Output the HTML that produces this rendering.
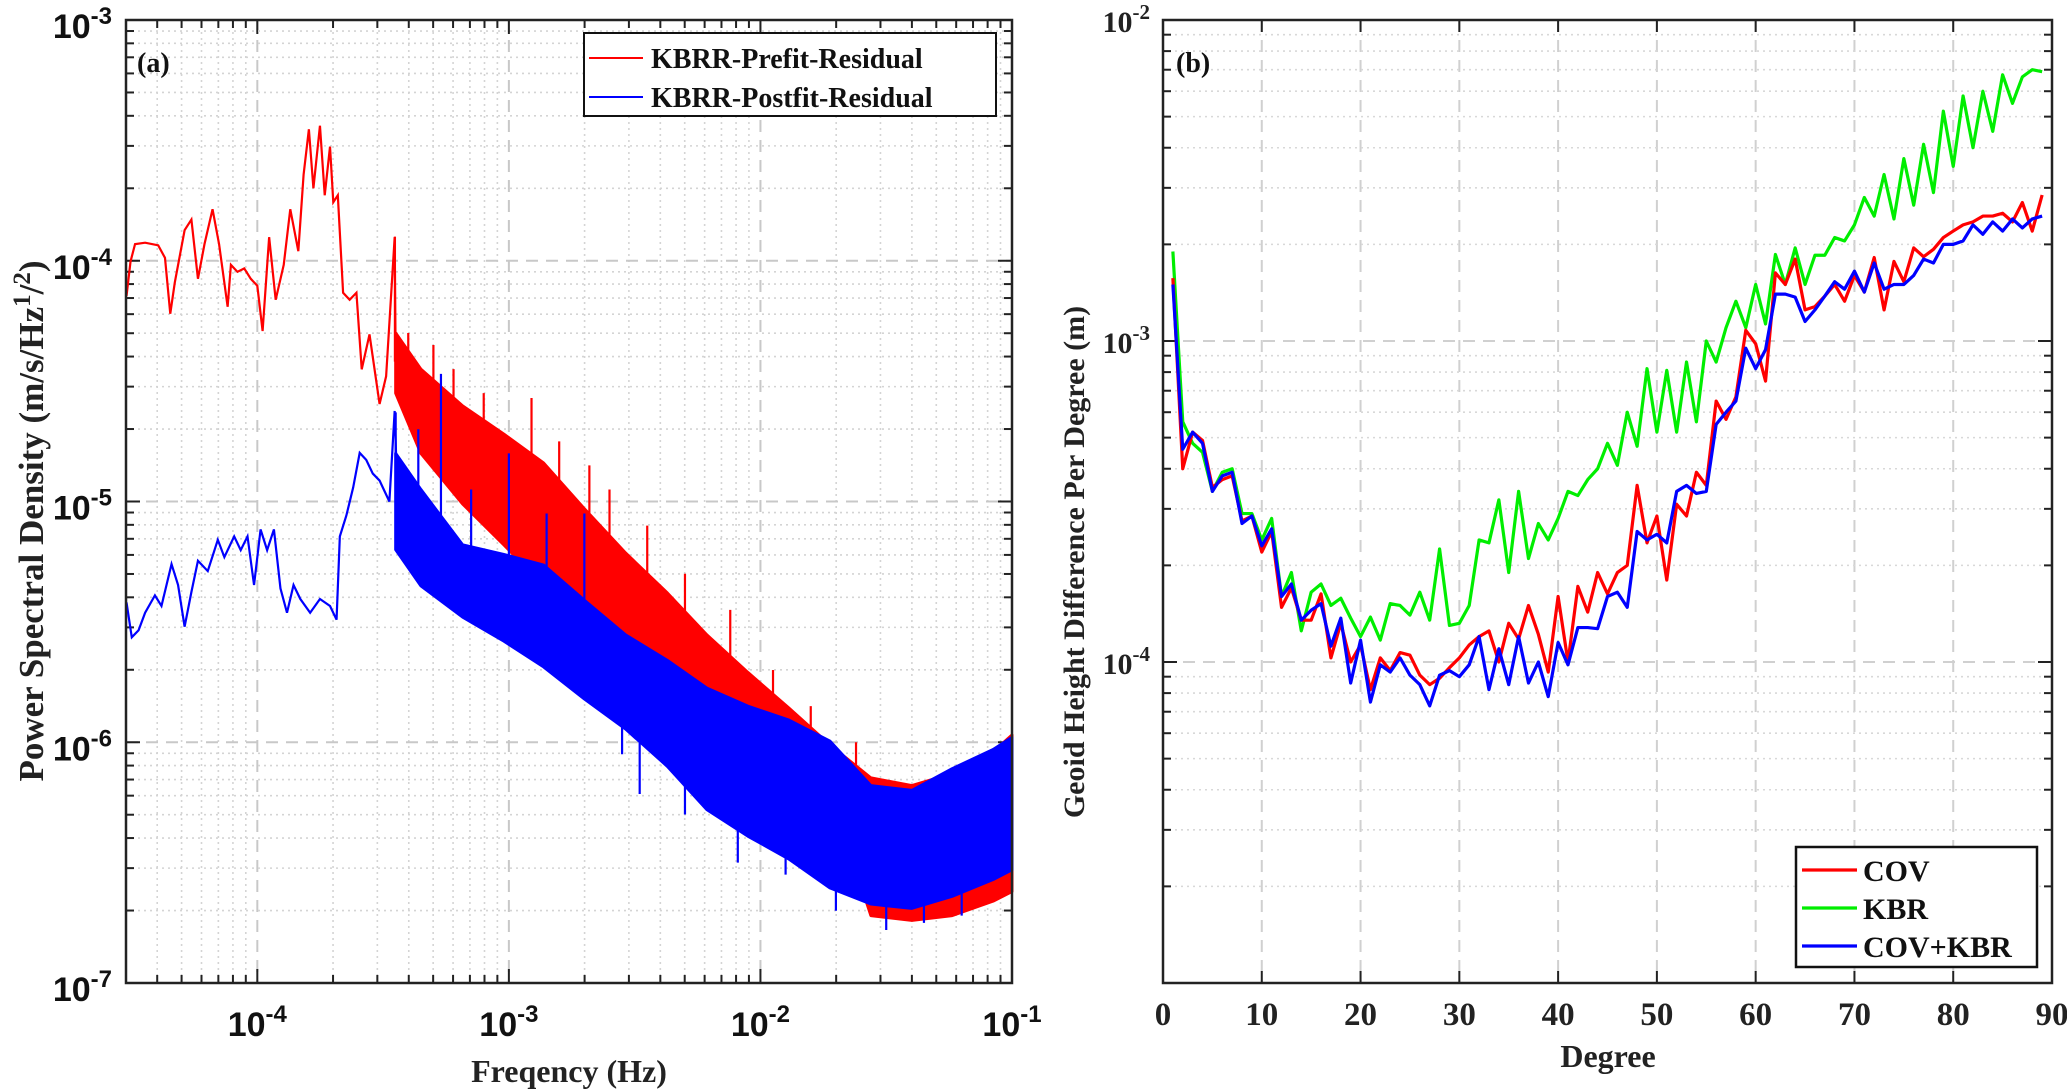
<!DOCTYPE html>
<html><head><meta charset="utf-8">
<style>
html,body{margin:0;padding:0;background:#fff;}
svg{display:block;}
.sans{font-family:"Liberation Sans",Arial,sans-serif;font-weight:bold;}
.serif{font-family:"Liberation Serif","Times New Roman",serif;font-weight:bold;}
</style></head>
<body>
<svg id="fig" width="2067" height="1091" viewBox="0 0 2067 1091" xmlns="http://www.w3.org/2000/svg">
<g id="pa"></g>
<g id="pb"></g>
</svg>
<script>
// ---------- Panel (a) data (log10 frequency, log10 PSD) ----------
const redLowLogF=[-4.520,-4.504,-4.486,-4.446,-4.394,-4.367,-4.346,-4.328,-4.289,-4.262,-4.236,-4.210,-4.178,-4.152,-4.118,-4.105,-4.079,-4.052,-4.026,-4.000,-3.979,-3.953,-3.927,-3.895,-3.869,-3.837,-3.816,-3.795,-3.777,-3.751,-3.732,-3.711,-3.698,-3.680,-3.659,-3.633,-3.606,-3.585,-3.554,-3.514,-3.488,-3.454,-3.449];
const redLowLogP=[-4.147,-4.003,-3.931,-3.925,-3.936,-3.988,-4.220,-4.090,-3.873,-3.829,-4.075,-3.931,-3.786,-3.931,-4.191,-4.017,-4.046,-4.032,-4.075,-4.104,-4.292,-3.902,-4.162,-4.017,-3.786,-3.960,-3.642,-3.454,-3.699,-3.439,-3.728,-3.526,-3.757,-3.728,-4.133,-4.162,-4.133,-4.451,-4.306,-4.595,-4.480,-3.902,-4.538];
const blueLowLogF=[-4.520,-4.499,-4.472,-4.446,-4.407,-4.381,-4.341,-4.315,-4.289,-4.262,-4.236,-4.197,-4.157,-4.131,-4.092,-4.066,-4.039,-4.013,-3.987,-3.961,-3.934,-3.908,-3.882,-3.856,-3.829,-3.790,-3.751,-3.711,-3.685,-3.672,-3.646,-3.619,-3.593,-3.567,-3.541,-3.514,-3.475,-3.454,-3.436];
const blueLowLogP=[-5.419,-5.564,-5.535,-5.462,-5.390,-5.434,-5.260,-5.347,-5.520,-5.376,-5.246,-5.289,-5.159,-5.231,-5.145,-5.202,-5.145,-5.347,-5.116,-5.202,-5.116,-5.361,-5.462,-5.347,-5.405,-5.462,-5.405,-5.434,-5.491,-5.145,-5.058,-4.942,-4.798,-4.827,-4.884,-4.913,-5.0,-4.624,-5.202];
const bandLogF=[-3.45,-3.35,-3.184,-3.02,-2.862,-2.70,-2.536,-2.37,-2.213,-2.05,-1.887,-1.724,-1.561,-1.398,-1.238,-1.075,-1.0];
const redTop=[-4.3,-4.45,-4.603,-4.72,-4.84,-5.03,-5.214,-5.38,-5.554,-5.71,-5.858,-6.011,-6.148,-6.18,-6.13,-6.04,-5.97];
const redBot=[-4.55,-4.8,-5.01,-5.18,-5.35,-5.52,-5.687,-5.77,-5.858,-5.9,-5.95,-6.2,-6.72,-6.74,-6.72,-6.66,-6.62];
const blueTop=[-4.8,-4.95,-5.18,-5.22,-5.264,-5.41,-5.554,-5.66,-5.775,-5.85,-5.908,-5.995,-6.18,-6.2,-6.11,-6.03,-5.98];
const blueBot=[-5.2,-5.35,-5.48,-5.58,-5.687,-5.82,-5.945,-6.1,-6.28,-6.39,-6.485,-6.605,-6.672,-6.69,-6.64,-6.57,-6.53];
const redSpikeLogF=[-3.453,-3.40,-3.30,-3.22,-3.10,-2.91,-2.80,-2.68,-2.60,-2.45,-2.30,-2.12,-1.95,-1.80,-1.62];
const redSpikeLogP=[-3.90,-4.30,-4.35,-4.45,-4.55,-4.57,-4.75,-4.85,-4.95,-5.10,-5.30,-5.45,-5.70,-5.85,-6.00];
const blueSpikeLogF=[-3.45,-3.36,-3.27,-3.15,-3.00,-2.85,-2.70,-2.55,-2.48,-2.30,-2.09,-1.90,-1.70,-1.50,-1.35,-1.20];
const blueSpikeLogP=[-4.63,-4.70,-4.47,-4.95,-4.80,-5.05,-5.05,-6.05,-6.215,-6.30,-6.50,-6.55,-6.70,-6.78,-6.75,-6.72];
const aXTicks=[-4,-3,-2,-1];
const aYTicks=[-7,-6,-5,-4,-3];
// ---------- Panel (b) data ----------
const degrees=[];for(let d=1;d<=89;d++)degrees.push(d);
const kbr=[1.9e-3,5.6e-4,4.8e-4,4.5e-4,3.4e-4,3.9e-4,4.0e-4,2.9e-4,2.9e-4,2.4e-4,2.8e-4,1.6e-4,1.9e-4,1.25e-4,1.65e-4,1.75e-4,1.5e-4,1.58e-4,1.37e-4,1.2e-4,1.38e-4,1.17e-4,1.52e-4,1.5e-4,1.4e-4,1.65e-4,1.35e-4,2.25e-4,1.3e-4,1.32e-4,1.5e-4,2.4e-4,2.35e-4,3.2e-4,1.9e-4,3.4e-4,2.1e-4,2.7e-4,2.4e-4,2.8e-4,3.4e-4,3.3e-4,3.7e-4,4.0e-4,4.8e-4,4.1e-4,6.0e-4,4.7e-4,8.2e-4,5.2e-4,8.1e-4,5.2e-4,8.6e-4,5.6e-4,1.0e-3,8.6e-4,1.1e-3,1.33e-3,1.1e-3,1.5e-3,1.13e-3,1.86e-3,1.5e-3,1.95e-3,1.5e-3,1.85e-3,1.85e-3,2.1e-3,2.05e-3,2.3e-3,2.8e-3,2.45e-3,3.3e-3,2.4e-3,3.7e-3,2.65e-3,4.1e-3,2.9e-3,5.2e-3,3.5e-3,5.8e-3,4.0e-3,6.0e-3,4.5e-3,6.75e-3,5.5e-3,6.65e-3,7.0e-3,6.9e-3];
const cov=[1.57e-3,4.0e-4,5.2e-4,4.9e-4,3.5e-4,3.7e-4,3.8e-4,2.75e-4,2.85e-4,2.2e-4,2.55e-4,1.48e-4,1.7e-4,1.35e-4,1.35e-4,1.63e-4,1.03e-4,1.32e-4,1.0e-4,1.13e-4,8.2e-5,1.03e-4,9.4e-5,1.07e-4,1.05e-4,9.1e-5,8.5e-5,8.9e-5,9.6e-5,1.03e-4,1.13e-4,1.2e-4,1.25e-4,1.0e-4,1.32e-4,1.18e-4,1.5e-4,1.22e-4,9.3e-5,1.6e-4,1.0e-4,1.72e-4,1.43e-4,1.9e-4,1.63e-4,1.9e-4,2.0e-4,3.55e-4,2.35e-4,2.85e-4,1.8e-4,3.1e-4,2.85e-4,3.9e-4,3.55e-4,6.5e-4,5.7e-4,6.7e-4,1.08e-3,9.8e-4,7.5e-4,1.63e-3,1.5e-3,1.8e-3,1.25e-3,1.28e-3,1.38e-3,1.5e-3,1.33e-3,1.6e-3,1.42e-3,1.82e-3,1.25e-3,1.77e-3,1.53e-3,1.95e-3,1.83e-3,1.93e-3,2.1e-3,2.2e-3,2.3e-3,2.35e-3,2.45e-3,2.45e-3,2.5e-3,2.35e-3,2.7e-3,2.2e-3,2.85e-3];
const covkbr=[1.5e-3,4.6e-4,5.2e-4,4.8e-4,3.4e-4,3.8e-4,3.9e-4,2.7e-4,2.85e-4,2.3e-4,2.6e-4,1.6e-4,1.75e-4,1.35e-4,1.45e-4,1.52e-4,1.12e-4,1.37e-4,8.6e-5,1.17e-4,7.5e-5,9.8e-5,9.3e-5,1.03e-4,9.1e-5,8.5e-5,7.3e-5,9.1e-5,9.4e-5,9.0e-5,9.8e-5,1.2e-4,8.2e-5,1.1e-4,8.5e-5,1.2e-4,8.6e-5,1.0e-4,7.8e-5,1.15e-4,9.8e-5,1.28e-4,1.28e-4,1.27e-4,1.6e-4,1.65e-4,1.48e-4,2.55e-4,2.4e-4,2.5e-4,2.35e-4,3.4e-4,3.55e-4,3.35e-4,3.4e-4,5.5e-4,6.0e-4,6.5e-4,9.5e-4,8.2e-4,9.4e-4,1.4e-3,1.4e-3,1.37e-3,1.15e-3,1.25e-3,1.38e-3,1.53e-3,1.45e-3,1.65e-3,1.42e-3,1.75e-3,1.45e-3,1.5e-3,1.5e-3,1.6e-3,1.8e-3,1.75e-3,2.0e-3,2.0e-3,2.05e-3,2.3e-3,2.15e-3,2.35e-3,2.2e-3,2.4e-3,2.25e-3,2.4e-3,2.45e-3];
const bXTicks=[0,10,20,30,40,50,60,70,80,90];
const bYTicks=[-5,-4,-3,-2];

const NS="http://www.w3.org/2000/svg";
function mk(tag,attrs,parent){const e=document.createElementNS(NS,tag);for(const k in attrs)e.setAttribute(k,attrs[k]);parent.appendChild(e);return e;}

// ---------- Panel (a) ----------
const pa=document.getElementById('pa');
const A={l:126,r:1012,t:20,b:983,f0:-4.522,f1:-1,p0:-7,p1:-3};
const ax=lf=>A.l+(lf-A.f0)/(A.f1-A.f0)*(A.r-A.l);
const ay=lp=>A.b-(lp-A.p0)/(A.p1-A.p0)*(A.b-A.t);
const ga=mk('g',{},pa);

for(let dec=-5;dec<=-2;dec++){for(let m=1;m<=9;m++){const lf=dec+Math.log10(m);if(lf<A.f0||lf>A.f1)continue;const x=ax(lf);
 mk('line',{x1:x,x2:x,y1:A.t,y2:A.b,stroke:m==1?'#c8c8c8':'#d4d4d4','stroke-width':m==1?2:1.6,'stroke-dasharray':m==1?'12,8':'2,4'},ga);
 const L=m==1?14:8; mk('line',{x1:x,x2:x,y1:A.b,y2:A.b-L,stroke:'#222','stroke-width':2},ga); mk('line',{x1:x,x2:x,y1:A.t,y2:A.t+L,stroke:'#222','stroke-width':2},ga);}}
for(let dec=-7;dec<=-4;dec++){for(let m=1;m<=9;m++){const lp=dec+Math.log10(m);const y=ay(lp);
 mk('line',{x1:A.l,x2:A.r,y1:y,y2:y,stroke:m==1?'#c8c8c8':'#d4d4d4','stroke-width':m==1?2:1.6,'stroke-dasharray':m==1?'12,8':'2,4'},ga);
 const L=m==1?14:8; mk('line',{x1:A.l,x2:A.l+L,y1:y,y2:y,stroke:'#222','stroke-width':2},ga); mk('line',{x1:A.r,x2:A.r-L,y1:y,y2:y,stroke:'#222','stroke-width':2},ga);}}
function band(logf,top,bot,color,name){let d='';logf.forEach((f,i)=>{d+=(i?'L':'M')+ax(f)+','+ay(top[i]);});for(let i=logf.length-1;i>=0;i--)d+='L'+ax(logf[i])+','+ay(bot[i]);d+='Z';
 const p=mk('path',{d:d,fill:color,stroke:color,'stroke-width':3,'stroke-linejoin':'round'},pa);}
function envAt(logf,arr,f){for(let i=1;i<logf.length;i++){if(f<=logf[i]){const t=(f-logf[i-1])/(logf[i]-logf[i-1]);return arr[i-1]+t*(arr[i]-arr[i-1]);}}return arr[arr.length-1];}
function spikes(sf,sp,top,bot,color,name){const g=mk('g',{},pa);
 sf.forEach((f,i)=>{const mid=(envAt(bandLogF,top,f)+envAt(bandLogF,bot,f))/2;const x=ax(f);mk('line',{x1:x,x2:x,y1:ay(mid),y2:ay(sp[i]),stroke:color,'stroke-width':2.2},g);});}
function lineA(lf,lp,color,name){const d=lf.map((f,i)=>(i?'L':'M')+ax(f)+','+ay(lp[i])).join('');const p=mk('path',{d:d,fill:'none',stroke:color,'stroke-width':2.2},pa);}
band(bandLogF,redTop,redBot,'#ff0000','prefit-band');
spikes(redSpikeLogF,redSpikeLogP,redTop,redBot,'#ff0000','prefit-spikes');
lineA(redLowLogF,redLowLogP,'#ff0000','prefit-line');
band(bandLogF,blueTop,blueBot,'#0000ff','postfit-band');
spikes(blueSpikeLogF,blueSpikeLogP,blueTop,blueBot,'#0000ff','postfit-spikes');
lineA(blueLowLogF,blueLowLogP,'#0000ff','postfit-line');
mk('rect',{x:A.l,y:A.t,width:A.r-A.l,height:A.b-A.t,fill:'none',stroke:'#222','stroke-width':2.5},pa);
aXTicks.forEach(t=>{const g=mk('text',{x:ax(t),y:1036,'text-anchor':'middle','font-size':34,class:'sans',fill:'#111'},pa);
 g.innerHTML='10<tspan dy="-14" font-size="24">'+t+'</tspan>';});
aYTicks.forEach(t=>{const g=mk('text',{x:112,y:ay(t)+18,'text-anchor':'end','font-size':34,class:'sans',fill:'#111'},pa);
 g.innerHTML='10<tspan dy="-14" font-size="24">'+t+'</tspan>';});
</script>
<script>
(function(){
const pa=document.getElementById('pa');
let t=mk('text',{x:569,y:1082,'text-anchor':'middle','font-size':32,class:'serif',fill:'#222'},pa);
t.textContent='Freqency (Hz)';
t=mk('text',{x:0,y:0,'text-anchor':'middle','font-size':35,class:'serif',fill:'#222',transform:'translate(43,521) rotate(-90)'},pa);

t.innerHTML='Power Spectral Density (m/s/Hz<tspan dy="-13" font-size="25">1</tspan><tspan dy="13">/</tspan><tspan dy="-13" font-size="25">2</tspan><tspan dy="13">)</tspan>';
t=mk('text',{x:137,y:72,'font-size':28,class:'serif',fill:'#111'},pa);t.textContent='(a)';
const lg=mk('g',{},pa);
mk('rect',{x:584,y:33,width:412,height:83,fill:'#fff',stroke:'#111','stroke-width':2},lg);
[['#ff0000','KBRR-Prefit-Residual',58],['#0000ff','KBRR-Postfit-Residual',97]].forEach(e=>{
 const g=mk('g',{},lg);
 mk('line',{x1:589,x2:643,y1:e[2],y2:e[2],stroke:e[0],'stroke-width':2},g);
 const tx=mk('text',{x:651,y:e[2]+10,'font-size':28,class:'serif',fill:'#111'},g);tx.textContent=e[1];});
})();
</script>
<script>
(function(){
const pb=document.getElementById('pb');
const B={l:1163,r:2052,t:20,b:983,x0:0,x1:90,p0:-5,p1:-2};
const bx=d=>B.l+(d-B.x0)/(B.x1-B.x0)*(B.r-B.l);
const by=v=>B.b-(Math.log10(v)-B.p0)/(B.p1-B.p0)*(B.b-B.t);
const g=mk('g',{},pb);
bXTicks.forEach(d=>{const x=bx(d);if(d>0&&d<90)mk('line',{x1:x,x2:x,y1:B.t,y2:B.b,stroke:'#d0d0d0','stroke-width':2,'stroke-dasharray':'12,8'},g);
 mk('line',{x1:x,x2:x,y1:B.b,y2:B.b-12,stroke:'#222','stroke-width':2},g);mk('line',{x1:x,x2:x,y1:B.t,y2:B.t+12,stroke:'#222','stroke-width':2},g);
 const t=mk('text',{x:x,y:1025,'text-anchor':'middle','font-size':33,class:'serif',fill:'#222'},pb);t.textContent=d;});
for(let dec=-5;dec<=-3;dec++)for(let m=1;m<=9;m++){const v=m*Math.pow(10,dec);const y=by(v);
 mk('line',{x1:B.l,x2:B.r,y1:y,y2:y,stroke:m==1?'#d0d0d0':'#d8d8d8','stroke-width':m==1?2:1.6,'stroke-dasharray':m==1?'12,8':'2,4'},g);
 const L=m==1?14:8;mk('line',{x1:B.l,x2:B.l+L,y1:y,y2:y,stroke:'#222','stroke-width':2},g);mk('line',{x1:B.r,x2:B.r-L,y1:y,y2:y,stroke:'#222','stroke-width':2},g);}
function series(vals,color,name){const d=vals.map((v,i)=>(i?'L':'M')+bx(degrees[i])+','+by(v)).join('');const p=mk('path',{d:d,fill:'none',stroke:color,'stroke-width':3.2,'stroke-linejoin':'round'},pb);}
series(kbr,'#00ee00','kbr-line');
series(cov,'#ff0000','cov-line');
series(covkbr,'#0000ff','cov-kbr-line');
mk('rect',{x:B.l,y:B.t,width:B.r-B.l,height:B.b-B.t,fill:'none',stroke:'#222','stroke-width':2.5},pb);
bYTicks.forEach(p=>{const t=mk('text',{x:1150,y:B.b-(p-B.p0)/(B.p1-B.p0)*(B.b-B.t)+12,'text-anchor':'end','font-size':30,class:'serif',fill:'#222'},pb);
 if(p>-5)t.innerHTML='10<tspan dy="-13" font-size="21">'+p+'</tspan>';});
let t=mk('text',{x:1608,y:1067,'text-anchor':'middle','font-size':32,class:'serif',fill:'#222'},pb);t.textContent='Degree';
t=mk('text',{x:0,y:0,'text-anchor':'middle','font-size':30,class:'serif',fill:'#222',transform:'translate(1084,562) rotate(-90)'},pb);t.textContent='Geoid Height Difference Per Degree (m)';
t=mk('text',{x:1176,y:72,'font-size':28,class:'serif',fill:'#111'},pb);t.textContent='(b)';
const lg=mk('g',{},pb);
mk('rect',{x:1796,y:847,width:241,height:120,fill:'#fff',stroke:'#111','stroke-width':2.5},lg);
[['#ff0000','COV',870],['#00ee00','KBR',908],['#0000ff','COV+KBR',946]].forEach(e=>{
 const gg=mk('g',{},lg);
 mk('line',{x1:1802,x2:1857,y1:e[2],y2:e[2],stroke:e[0],'stroke-width':3.2},gg);
 const tx=mk('text',{x:1863,y:e[2]+11,'font-size':30,class:'serif',fill:'#111'},gg);tx.textContent=e[1];});
})();
</script>
</body></html>
